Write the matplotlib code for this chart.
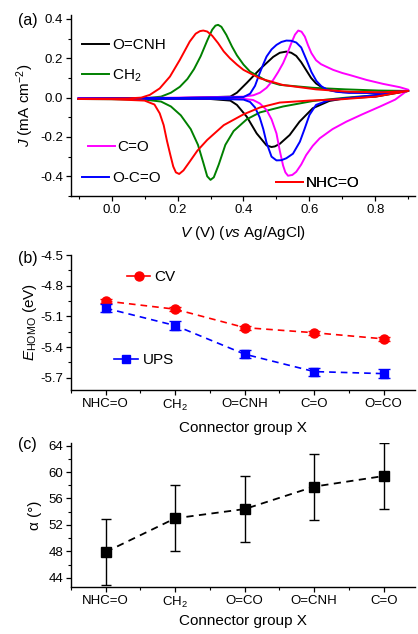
import numpy as np
import matplotlib
matplotlib.use('Agg')
import matplotlib.pyplot as plt
from matplotlib.lines import Line2D
from matplotlib.ticker import MultipleLocator

plt.rcParams['font.family'] = ['Liberation Sans', 'DejaVu Sans']
plt.rcParams['mathtext.fontset'] = 'custom'
plt.rcParams['mathtext.rm'] = 'Liberation Sans'
plt.rcParams['mathtext.it'] = 'Liberation Sans:italic'
plt.rcParams['axes.linewidth'] = 1.0

# ---- (a) cyclic voltammograms, forward branch then reverse branch ----
red_v = [-0.1, 0.0, 0.05, 0.09, 0.116, 0.146, 0.177, 0.207, 0.237, 0.255, 0.268, 0.278, 0.29, 0.305, 0.323, 0.34, 0.359, 0.38, 0.4, 0.45, 0.52, 0.62, 0.72, 0.82, 0.9,
         0.8, 0.7, 0.6, 0.51, 0.45, 0.4, 0.34, 0.29, 0.26, 0.235, 0.218, 0.205, 0.195, 0.187, 0.178, 0.168, 0.158, 0.146, 0.13, 0.1, 0.0, -0.1]
red_j = [-0.006, -0.005, -0.004, 0.0, 0.014, 0.047, 0.107, 0.192, 0.285, 0.325, 0.338, 0.341, 0.336, 0.315, 0.277, 0.235, 0.2, 0.168, 0.141, 0.098, 0.064, 0.042, 0.03, 0.027, 0.034,
         0.005, -0.008, -0.015, -0.025, -0.05, -0.085, -0.14, -0.215, -0.27, -0.33, -0.37, -0.388, -0.38, -0.35, -0.29, -0.22, -0.14, -0.08, -0.035, -0.015, -0.008, -0.007]

green_v = [-0.1, 0.0, 0.1, 0.15, 0.18, 0.207, 0.23, 0.25, 0.27, 0.29, 0.305, 0.315, 0.323, 0.333, 0.348, 0.365, 0.38, 0.4, 0.42, 0.47, 0.51, 0.61, 0.71, 0.81, 0.9,
           0.813, 0.712, 0.611, 0.52, 0.45, 0.41, 0.37, 0.345, 0.325, 0.31, 0.3, 0.29, 0.278, 0.262, 0.24, 0.21, 0.18, 0.15, 0.1, 0.0, -0.1]
green_j = [-0.006, -0.005, -0.003, 0.005, 0.025, 0.055, 0.095, 0.145, 0.21, 0.29, 0.345, 0.366, 0.37, 0.36, 0.319, 0.26, 0.215, 0.168, 0.132, 0.085, 0.065, 0.05, 0.042, 0.036, 0.034,
           0.014, 0.0, -0.017, -0.045, -0.075, -0.11, -0.17, -0.24, -0.34, -0.405, -0.418, -0.4, -0.33, -0.24, -0.16, -0.09, -0.045, -0.02, -0.01, -0.008, -0.007]

black_v = [-0.1, 0.0, 0.2, 0.36, 0.38, 0.41, 0.45, 0.49, 0.51, 0.53, 0.545, 0.56, 0.575, 0.59, 0.605, 0.62, 0.64, 0.66, 0.7, 0.8, 0.9,
           0.8, 0.71, 0.66, 0.61, 0.57, 0.54, 0.51, 0.495, 0.485, 0.47, 0.44, 0.41, 0.38, 0.36, 0.3, 0.0, -0.1]
black_j = [-0.005, -0.004, -0.002, 0.005, 0.025, 0.075, 0.145, 0.207, 0.228, 0.234, 0.228, 0.212, 0.18, 0.14, 0.1, 0.072, 0.05, 0.038, 0.028, 0.025, 0.034,
           0.005, -0.003, -0.017, -0.054, -0.122, -0.19, -0.235, -0.248, -0.251, -0.243, -0.182, -0.097, -0.037, -0.015, -0.007, -0.006, -0.006]

blue_v = [-0.1, 0.0, 0.2, 0.4, 0.42, 0.435, 0.449, 0.46, 0.47, 0.485, 0.5, 0.515, 0.53, 0.545, 0.56, 0.575, 0.591, 0.606, 0.621, 0.636, 0.652, 0.68, 0.72, 0.8, 0.9,
          0.76, 0.66, 0.62, 0.6, 0.585, 0.571, 0.55, 0.53, 0.515, 0.5, 0.485, 0.47, 0.46, 0.449, 0.435, 0.42, 0.4, 0.3, 0.0, -0.1]
blue_j = [-0.005, -0.004, -0.002, 0.003, 0.02, 0.06, 0.124, 0.17, 0.209, 0.245, 0.268, 0.283, 0.29, 0.289, 0.28, 0.255, 0.192, 0.13, 0.085, 0.058, 0.042, 0.03, 0.024, 0.024, 0.034,
          0.005, -0.012, -0.037, -0.088, -0.16, -0.224, -0.285, -0.308, -0.318, -0.319, -0.3, -0.23, -0.16, -0.1, -0.05, -0.022, -0.01, -0.006, -0.005, -0.005]

mag_v = [-0.1, 0.0, 0.2, 0.4, 0.43, 0.45, 0.47, 0.49, 0.505, 0.52, 0.533, 0.545, 0.556, 0.566, 0.576, 0.586, 0.596, 0.606, 0.62, 0.635, 0.65, 0.672, 0.7, 0.722, 0.773, 0.823, 0.874, 0.9,
         0.86, 0.813, 0.76, 0.712, 0.67, 0.631, 0.61, 0.59, 0.575, 0.56, 0.548, 0.535, 0.527, 0.52, 0.51, 0.5, 0.485, 0.47, 0.45, 0.429, 0.4, 0.3, 0.0, -0.1]
mag_j = [-0.004, -0.003, 0.0, 0.005, 0.012, 0.025, 0.05, 0.09, 0.13, 0.175, 0.225, 0.277, 0.32, 0.341, 0.335, 0.31, 0.265, 0.226, 0.19, 0.17, 0.158, 0.141, 0.125, 0.115, 0.09, 0.07, 0.053, 0.04,
         -0.01, -0.046, -0.085, -0.122, -0.16, -0.207, -0.245, -0.292, -0.34, -0.377, -0.393, -0.397, -0.38, -0.345, -0.27, -0.182, -0.11, -0.063, -0.03, -0.012, -0.006, -0.004, -0.003, -0.003]

# ---- (b) HOMO levels ----
groups_b = ['NHC=O', 'CH$_2$', 'O=CNH', 'C=O', 'O=CO']
cv_e = [-4.95, -5.03, -5.21, -5.26, -5.32]
cv_err = [0.02, 0.02, 0.02, 0.02, 0.02]
ups_e = [-5.02, -5.19, -5.47, -5.64, -5.66]
ups_err = [0.04, 0.04, 0.04, 0.04, 0.045]

# ---- (c) tilt angle ----
groups_c = ['NHC=O', 'CH$_2$', 'O=CO', 'O=CNH', 'C=O']
alpha = [47.9, 53.0, 54.4, 57.8, 59.4]
alpha_err = [5.0, 5.0, 5.0, 5.0, 5.0]

W, H = 418, 634
fig = plt.figure(figsize=(W / 100, H / 100), dpi=100)

def box(l, r, b, t):
    return [l / W, 1 - b / H, (r - l) / W, (b - t) / H]

def style(ax):
    for s in ['top', 'right']:
        ax.spines[s].set_visible(False)
    ax.tick_params(direction='out', length=3.5, width=0.9, labelsize=9.5, pad=2)
    ax.tick_params(which='minor', direction='out', length=2, width=0.8)

# panel a
ax1 = fig.add_axes(box(71, 415, 196, 15))
la, = ax1.plot(black_v, black_j, color='black', lw=1.4)
lb, = ax1.plot(green_v, green_j, color='#008000', lw=1.4)
lc, = ax1.plot(mag_v, mag_j, color='#ff00ff', lw=1.4)
ld, = ax1.plot(blue_v, blue_j, color='#0000ff', lw=1.4)
le, = ax1.plot(red_v, red_j, color='#ff0000', lw=1.4)
ax1.set_xlim(-0.123, 0.92)
ax1.set_ylim(-0.5, 0.42)
ax1.xaxis.set_minor_locator(MultipleLocator(0.1))
ax1.yaxis.set_minor_locator(MultipleLocator(0.1))
ax1.set_xticks([0.0, 0.2, 0.4, 0.6, 0.8])
ax1.set_xticklabels(['0.0', '0.2', '0.4', '0.6', '0.8'])
ax1.set_yticks([-0.4, -0.2, 0.0, 0.2, 0.4])
ax1.set_yticklabels(['-0.4', '-0.2', '0.0', '0.2', '0.4'])
style(ax1)
ax1.set_xlabel(r'$V$ (V) ($vs$ Ag/AgCl)', fontsize=11, labelpad=6)
ax1.set_ylabel(r'$J$ (mA cm$^{-2}$)', fontsize=11, labelpad=3)

for h, lab, pos in [(la, 'O=CNH', (0.032, 0.834)), (lb, 'CH$_2$', (0.032, 0.663)),
                    (lc, 'C=O', (0.049, 0.271)), (ld, 'O-C=O', (0.032, 0.10)),
                    (le, 'NHC=O', (0.596, 0.072))]:
    lg = ax1.legend([h], [lab], loc='center left', bbox_to_anchor=pos, frameon=False,
                    fontsize=11, handlelength=1.75, handletextpad=0.2,
                    borderpad=0, borderaxespad=0)
    ax1.add_artist(lg)

# panel b
ax2 = fig.add_axes(box(71, 415, 390, 255))
x = np.arange(len(groups_b))
ax2.errorbar(x, cv_e, yerr=cv_err, color='#ff0000', marker='o', ms=6.5, ls='--', lw=1.2,
             capsize=4, elinewidth=1, dashes=(4, 3))
ax2.errorbar(x, ups_e, yerr=ups_err, color='#0000ff', marker='s', ms=6, ls='--', lw=1.2,
             capsize=4.5, elinewidth=1, dashes=(4, 3))
ax2.set_xlim(-0.5, 4.45)
ax2.set_ylim(-5.82, -4.5)
ax2.set_xticks(x)
ax2.set_xticklabels(groups_b)
ax2.xaxis.set_minor_locator(MultipleLocator(0.5))
ax2.set_yticks([-5.7, -5.4, -5.1, -4.8, -4.5])
ax2.set_yticklabels(['-5.7', '-5.4', '-5.1', '-4.8', '-4.5'])
ax2.yaxis.set_minor_locator(MultipleLocator(0.15))
style(ax2)
ax2.set_xlabel('Connector group X', fontsize=11, labelpad=6)
ax2.set_ylabel(r'$E_{\mathrm{HOMO}}$ (eV)', fontsize=11, labelpad=1)
h_cv = Line2D([], [], color='#ff0000', marker='o', ms=6.5, lw=1.2)
h_ups = Line2D([], [], color='#0000ff', marker='s', ms=6, lw=1.2)
lg = ax2.legend([h_cv], ['CV'], loc='center left', bbox_to_anchor=(0.163, 0.837), frameon=False,
                fontsize=11, handlelength=1.5, handletextpad=0.3, borderpad=0, borderaxespad=0)
ax2.add_artist(lg)
ax2.legend([h_ups], ['UPS'], loc='center left', bbox_to_anchor=(0.125, 0.222), frameon=False,
           fontsize=11, handlelength=1.6, handletextpad=0.3, borderpad=0, borderaxespad=0)

# panel c
ax3 = fig.add_axes(box(71, 415, 587, 443))
ax3.errorbar(x, alpha, yerr=alpha_err, color='black', marker='s', ms=6.5, ls='--', lw=1.3,
             capsize=3.5, elinewidth=1, dashes=(4, 3))
ax3.set_xlim(-0.5, 4.45)
ax3.set_ylim(42.6, 64.4)
ax3.set_xticks(x)
ax3.set_xticklabels(groups_c)
ax3.xaxis.set_minor_locator(MultipleLocator(0.5))
ax3.set_yticks([44, 48, 52, 56, 60, 64])
ax3.yaxis.set_minor_locator(MultipleLocator(2))
style(ax3)
ax3.set_xlabel('Connector group X', fontsize=11, labelpad=3)
ax3.set_ylabel('α (°)', fontsize=11, labelpad=5)

fig.text(18 / W, 1 - 20 / H, '(a)', fontsize=11.5, va='center')
fig.text(18 / W, 1 - 258 / H, '(b)', fontsize=11.5, va='center')
fig.text(18 / W, 1 - 445 / H, '(c)', fontsize=11.5, va='center')

fig.savefig('out.png', dpi=100)
